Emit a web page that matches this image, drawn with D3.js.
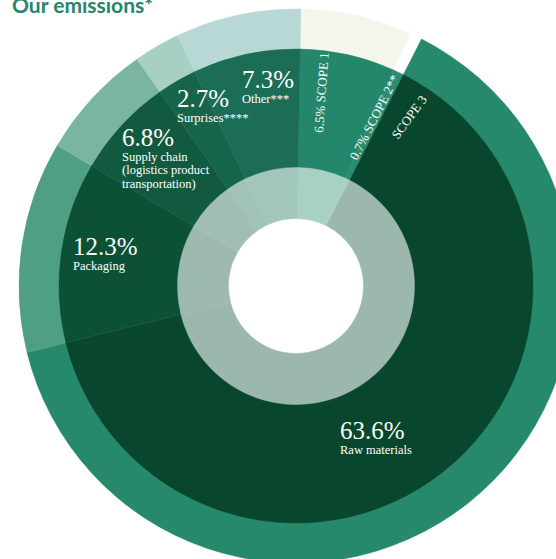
<!DOCTYPE html>
<html>
<head>
<meta charset="utf-8">
<script src="https://cdn.jsdelivr.net/npm/d3@7/dist/d3.min.js"></script>
<style>
  html, body { margin: 0; padding: 0; background: #ffffff; }
  svg { display: block; }
</style>
</head>
<body>
<svg id="chart" width="556" height="559"></svg>
<script>
// ---- data ----
const categories = ["Scope 1", "Scope 2", "Raw materials", "Packaging", "Supply chain", "Surprises", "Other"];
const values = [6.5, 0.7, 63.6, 12.3, 6.8, 2.7, 7.3];
const pctLabels = ["6.5%", "0.7%", "63.6%", "12.3%", "6.8%", "2.7%", "7.3%"];
const nameLabels = ["SCOPE 1", "SCOPE 2**", ["Raw materials"], ["Packaging"],
  ["Supply chain", "(logistics product", "transportation)"], ["Surprises****"], ["Other***"]];

// ---- styles ----
const innerColors = ["#a8d0c3", "#a9d1c5", "#9cb7ad", "#9eb9af", "#a1beb4", "#a2c3b9", "#a2c6bb"];
const middleColors = ["#24866a", "#2a8c70", "#08472d", "#0c5135", "#115a3f", "#166449", "#1c6d55"];
const outerColors = ["#f4f6ee", "#ffffff", "#27896b", "#4f9f84", "#7ab5a2", "#a7cfc4", "#b8d8d6"];

const svg = d3.select("#chart");
const cx = 296, cy = 286;
const g = svg.append("g").attr("transform", `translate(${cx},${cy})`);

const startOffset = 1 * Math.PI / 180;
const pie = d3.pie().sort(null).value(d => d)
  .startAngle(startOffset).endAngle(startOffset + 2 * Math.PI);
const arcsData = pie(values);

const rings = [
  { r0: 0, r1: 0, colors: outerColors, inner: 236, outer: 277 },
  { colors: middleColors, inner: 118, outer: 237 },
  { colors: innerColors, inner: 67.5, outer: 118.5 }
];

rings.forEach(ring => {
  const arc = d3.arc().innerRadius(ring.inner).outerRadius(ring.outer);
  g.append("g").selectAll("path").data(arcsData).join("path")
    .attr("d", arc)
    .attr("fill", (d, i) => ring.colors[i])
    .attr("stroke", (d, i) => ring.colors[i])
    .attr("stroke-width", 0.5);
});

// ---- title ----
svg.append("text")
  .attr("x", 12).attr("y", 13)
  .attr("font-family", "Lato, 'Open Sans', sans-serif")
  .attr("font-weight", 700)
  .attr("font-size", 21)
  .attr("fill", "#24866a")
  .text("Our emissions*");

// ---- horizontal labels (offsets from centre) ----
const serif = "'Liberation Serif', 'DejaVu Serif', serif";
const hLabels = [
  { i: 6, dx: -54, dy: -198 },
  { i: 5, dx: -119, dy: -179 },
  { i: 4, dx: -174, dy: -140 },
  { i: 3, dx: -223, dy: -31 },
  { i: 2, dx: 44, dy: 153 }
];
hLabels.forEach(l => {
  const t = g.append("text")
    .attr("x", l.dx).attr("y", l.dy)
    .attr("font-family", serif)
    .attr("fill", "#ffffff");
  t.append("tspan").attr("x", l.dx).attr("font-size", 25).text(pctLabels[l.i]);
  nameLabels[l.i].forEach((line, k) => {
    t.append("tspan").attr("x", l.dx).attr("dy", k === 0 ? 14.5 : 13.5)
      .attr("font-size", 12.5).text(line);
  });
});

// ---- rotated radial labels ----
const rLabels = [
  { text: pctLabels[0] + " " + nameLabels[0], dx: 27, dy: -153, rot: -86 },
  { text: pctLabels[1] + " " + nameLabels[1], dx: 61, dy: -125, rot: -63 },
  { text: "SCOPE 3", dx: 102, dy: -146, rot: -54 }
];
rLabels.forEach(l => {
  g.append("text")
    .attr("transform", `translate(${l.dx},${l.dy}) rotate(${l.rot})`)
    .attr("font-family", serif)
    .attr("font-size", 13)
    .attr("fill", "#ffffff")
    .text(l.text);
});
</script>
</body>
</html>
